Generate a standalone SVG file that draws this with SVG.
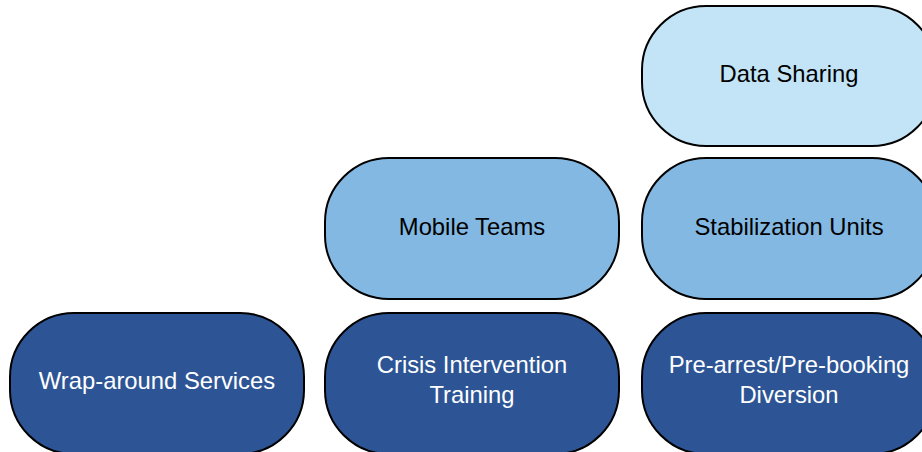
<svg xmlns="http://www.w3.org/2000/svg" width="922" height="452" viewBox="0 0 922 452">
<style>
.box{stroke:#000;stroke-width:2}
.dark{fill:#2D5596}
.mid{fill:#83B8E2}
.light{fill:#C2E4F6}
text{font-family:"Liberation Sans",Arial,sans-serif;font-size:23.8px;text-anchor:middle}
.w{fill:#FFFFFF}
.k{fill:#000000}
</style>
<rect width="922" height="452" fill="#FFFFFF"/>
<g id="data-sharing">
<rect class="box light" x="642" y="6" width="294" height="140" rx="64" ry="64"/>
<text class="k" x="789" y="82">Data Sharing</text>
</g>
<g id="mobile-teams">
<rect class="box mid" x="325" y="158" width="294" height="141" rx="64" ry="64"/>
<text class="k" x="472" y="235">Mobile Teams</text>
</g>
<g id="stabilization-units">
<rect class="box mid" x="642" y="158" width="294" height="141" rx="64" ry="64"/>
<text class="k" x="789" y="235">Stabilization Units</text>
</g>
<g id="wrap-around-services">
<rect class="box dark" x="10" y="313" width="294" height="141" rx="64" ry="64"/>
<text class="w" x="157" y="389">Wrap-around Services</text>
</g>
<g id="crisis-intervention-training">
<rect class="box dark" x="325" y="313" width="294" height="141" rx="64" ry="64"/>
<text class="w" x="472" y="373">Crisis Intervention</text>
<text class="w" x="472" y="403">Training</text>
</g>
<g id="pre-arrest-diversion">
<rect class="box dark" x="642" y="313" width="294" height="141" rx="64" ry="64"/>
<text class="w" x="789" y="373">Pre-arrest/Pre-booking</text>
<text class="w" x="789" y="403">Diversion</text>
</g>
<g id="connectors"></g>
</svg>
